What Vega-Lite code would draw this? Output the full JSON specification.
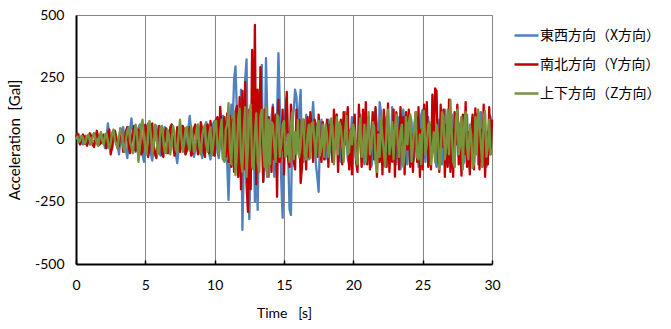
{
"$schema": "https://vega.github.io/schema/vega-lite/v6.json",
"width": 416, "height": 249,
"autosize": "none",
"padding": {"left": 76, "top": 15, "right": 179, "bottom": 65},
"background": "white",
"config": {"view": {"stroke": null}, "font": "Lato"},
"data": {"values": [
{"t":0.0,"x":0,"y":10,"z":5},{"t":0.1,"x":10,"y":25,"z":12},{"t":0.2,"x":20,"y":-5,"z":-10},{"t":0.3,"x":5,"y":-20,"z":-5},{"t":0.4,"x":-15,"y":0,"z":15},{"t":0.5,"x":-20,"y":20,"z":8},{"t":0.6,"x":0,"y":10,"z":-18},{"t":0.7,"x":15,"y":-15,"z":-10},{"t":0.8,"x":10,"y":-25,"z":15},{"t":0.9,"x":-10,"y":5,"z":20},
{"t":1.0,"x":-20,"y":25,"z":-8},{"t":1.1,"x":-5,"y":15,"z":-20},{"t":1.2,"x":15,"y":-20,"z":10},{"t":1.3,"x":25,"y":-30,"z":25},{"t":1.4,"x":5,"y":0,"z":5},{"t":1.5,"x":-15,"y":35,"z":-15},{"t":1.6,"x":-25,"y":10,"z":-25},{"t":1.7,"x":-5,"y":-20,"z":15},{"t":1.8,"x":20,"y":-15,"z":30},{"t":1.9,"x":10,"y":15,"z":-5},
{"t":2.0,"x":-10,"y":20,"z":-20},{"t":2.1,"x":-35,"y":-10,"z":20},{"t":2.2,"x":10,"y":-35,"z":25},{"t":2.3,"x":65,"y":25,"z":-10},{"t":2.4,"x":20,"y":40,"z":-35},{"t":2.5,"x":-25,"y":-60,"z":-15},{"t":2.6,"x":-40,"y":-30,"z":25},{"t":2.7,"x":0,"y":20,"z":40},{"t":2.8,"x":35,"y":35,"z":0},{"t":2.9,"x":15,"y":0,"z":-20},
{"t":3.0,"x":-20,"y":-35,"z":-35},{"t":3.1,"x":-60,"y":-25,"z":10},{"t":3.2,"x":-10,"y":45,"z":45},{"t":3.3,"x":30,"y":20,"z":20},{"t":3.4,"x":50,"y":-50,"z":-25},{"t":3.5,"x":5,"y":-10,"z":-50},{"t":3.6,"x":-40,"y":35,"z":0},{"t":3.7,"x":-75,"y":50,"z":35},{"t":3.8,"x":-20,"y":-30,"z":50},{"t":3.9,"x":40,"y":-55,"z":-10},
{"t":4.0,"x":85,"y":0,"z":-30},{"t":4.1,"x":30,"y":30,"z":-55},{"t":4.2,"x":-30,"y":55,"z":15},{"t":4.3,"x":-50,"y":-45,"z":60},{"t":4.4,"x":10,"y":-35,"z":30},{"t":4.5,"x":45,"y":40,"z":-90},{"t":4.6,"x":60,"y":20,"z":-40},{"t":4.7,"x":0,"y":-60,"z":55},{"t":4.8,"x":-60,"y":-50,"z":80},{"t":4.9,"x":-90,"y":35,"z":10},
{"t":5.0,"x":-20,"y":60,"z":-45},{"t":5.1,"x":50,"y":15,"z":-60},{"t":5.2,"x":65,"y":-70,"z":40},{"t":5.3,"x":10,"y":-40,"z":75},{"t":5.4,"x":-55,"y":50,"z":20},{"t":5.5,"x":-85,"y":65,"z":-55},{"t":5.6,"x":-30,"y":-20,"z":-25},{"t":5.7,"x":40,"y":-60,"z":60},{"t":5.8,"x":55,"y":-75,"z":15},{"t":5.9,"x":0,"y":10,"z":-60},
{"t":6.0,"x":-45,"y":55,"z":-40},{"t":6.1,"x":-65,"y":40,"z":50},{"t":6.2,"x":-10,"y":-60,"z":55},{"t":6.3,"x":35,"y":-70,"z":0},{"t":6.4,"x":50,"y":20,"z":-50},{"t":6.5,"x":15,"y":45,"z":-55},{"t":6.6,"x":-40,"y":-55,"z":40},{"t":6.7,"x":-55,"y":-30,"z":20},{"t":6.8,"x":5,"y":50,"z":-60},{"t":6.9,"x":60,"y":60,"z":-20},
{"t":7.0,"x":30,"y":-10,"z":55},{"t":7.1,"x":-20,"y":-65,"z":30},{"t":7.2,"x":-60,"y":-45,"z":-40},{"t":7.3,"x":-95,"y":50,"z":-55},{"t":7.4,"x":-40,"y":45,"z":20},{"t":7.5,"x":25,"y":-50,"z":80},{"t":7.6,"x":55,"y":-20,"z":10},{"t":7.7,"x":20,"y":55,"z":-50},{"t":7.8,"x":-35,"y":40,"z":-15},{"t":7.9,"x":-60,"y":-60,"z":45},
{"t":8.0,"x":0,"y":-45,"z":50},{"t":8.1,"x":45,"y":20,"z":-20},{"t":8.2,"x":95,"y":50,"z":-45},{"t":8.3,"x":40,"y":-65,"z":55},{"t":8.4,"x":-20,"y":-55,"z":15},{"t":8.5,"x":-70,"y":45,"z":-50},{"t":8.6,"x":-45,"y":60,"z":-30},{"t":8.7,"x":15,"y":-10,"z":45},{"t":8.8,"x":60,"y":-60,"z":60},{"t":8.9,"x":25,"y":-45,"z":-30},
{"t":9.0,"x":-30,"y":70,"z":-60},{"t":9.1,"x":-75,"y":40,"z":15},{"t":9.2,"x":-20,"y":-50,"z":45},{"t":9.3,"x":40,"y":-70,"z":60},{"t":9.4,"x":70,"y":55,"z":-25},{"t":9.5,"x":10,"y":60,"z":-50},{"t":9.6,"x":-55,"y":-55,"z":20},{"t":9.7,"x":-80,"y":75,"z":50},{"t":9.8,"x":-20,"y":20,"z":-65},{"t":9.9,"x":65,"y":-60,"z":-20},
{"t":10.0,"x":75,"y":-65,"z":65},{"t":10.1,"x":20,"y":80,"z":75},{"t":10.2,"x":-50,"y":90,"z":-30},{"t":10.3,"x":-75,"y":-60,"z":-60},{"t":10.4,"x":0,"y":131,"z":30},{"t":10.5,"x":85,"y":40,"z":80},{"t":10.6,"x":95,"y":-80,"z":-75},{"t":10.7,"x":20,"y":90,"z":-90},{"t":10.8,"x":-80,"y":-70,"z":40},{"t":10.9,"x":-90,"y":105,"z":60},
{"t":11.0,"x":-243,"y":-90,"z":146},{"t":11.1,"x":-60,"y":95,"z":-40},{"t":11.2,"x":140,"y":-110,"z":-100},{"t":11.3,"x":60,"y":80,"z":40},{"t":11.4,"x":240,"y":-130,"z":110},{"t":11.5,"x":294,"y":110,"z":-143},{"t":11.6,"x":120,"y":135,"z":-60},{"t":11.7,"x":-150,"y":-150,"z":90},{"t":11.8,"x":-60,"y":170,"z":125},{"t":11.9,"x":200,"y":-200,"z":-80},
{"t":12.0,"x":-363,"y":195,"z":-130},{"t":12.1,"x":-100,"y":-120,"z":40},{"t":12.2,"x":245,"y":230,"z":130},{"t":12.3,"x":322,"y":-180,"z":-150},{"t":12.4,"x":-150,"y":-291,"z":-40},{"t":12.5,"x":-320,"y":120,"z":100},{"t":12.6,"x":-80,"y":-200,"z":140},{"t":12.7,"x":150,"y":360,"z":-110},{"t":12.8,"x":80,"y":-100,"z":-120},{"t":12.9,"x":-250,"y":460,"z":20},
{"t":13.0,"x":-60,"y":-180,"z":105},{"t":13.1,"x":-283,"y":200,"z":-90},{"t":13.2,"x":60,"y":-130,"z":-130},{"t":13.3,"x":150,"y":291,"z":95},{"t":13.4,"x":300,"y":40,"z":120},{"t":13.5,"x":-170,"y":-170,"z":-20},{"t":13.6,"x":-120,"y":120,"z":-110},{"t":13.7,"x":327,"y":-20,"z":131},{"t":13.8,"x":80,"y":-150,"z":-150},{"t":13.9,"x":-150,"y":90,"z":80},
{"t":14.0,"x":-60,"y":30,"z":-100},{"t":14.1,"x":90,"y":-130,"z":70},{"t":14.2,"x":140,"y":130,"z":60},{"t":14.3,"x":-150,"y":-80,"z":-30},{"t":14.4,"x":-60,"y":100,"z":-90},{"t":14.5,"x":100,"y":-230,"z":100},{"t":14.6,"x":347,"y":159,"z":90},{"t":14.7,"x":130,"y":-90,"z":-70},{"t":14.8,"x":-160,"y":-40,"z":-20},{"t":14.9,"x":-315,"y":120,"z":60},
{"t":15.0,"x":-20,"y":-140,"z":75},{"t":15.1,"x":110,"y":60,"z":-70},{"t":15.2,"x":170,"y":191,"z":-60},{"t":15.3,"x":-60,"y":-80,"z":20},{"t":15.4,"x":-280,"y":-110,"z":-90},{"t":15.5,"x":-303,"y":140,"z":60},{"t":15.6,"x":60,"y":20,"z":110},{"t":15.7,"x":120,"y":-90,"z":-80},{"t":15.8,"x":200,"y":-120,"z":30},{"t":15.9,"x":171,"y":120,"z":-60},
{"t":16.0,"x":30,"y":-40,"z":80},{"t":16.1,"x":120,"y":80,"z":-70},{"t":16.2,"x":199,"y":-175,"z":-20},{"t":16.3,"x":-70,"y":-110,"z":60},{"t":16.4,"x":-90,"y":80,"z":80},{"t":16.5,"x":20,"y":10,"z":-60},{"t":16.6,"x":100,"y":-120,"z":-80},{"t":16.7,"x":70,"y":90,"z":20},{"t":16.8,"x":-80,"y":-70,"z":60},{"t":16.9,"x":-40,"y":110,"z":-75},
{"t":17.0,"x":60,"y":30,"z":65},{"t":17.1,"x":150,"y":-90,"z":70},{"t":17.2,"x":40,"y":80,"z":-10},{"t":17.3,"x":-100,"y":60,"z":-70},{"t":17.4,"x":-150,"y":-70,"z":55},{"t":17.5,"x":-210,"y":100,"z":75},{"t":17.6,"x":20,"y":-30,"z":-65},{"t":17.7,"x":80,"y":-90,"z":-25},{"t":17.8,"x":30,"y":70,"z":60},{"t":17.9,"x":-60,"y":-80,"z":-70},
{"t":18.0,"x":-80,"y":-20,"z":60},{"t":18.1,"x":10,"y":80,"z":20},{"t":18.2,"x":80,"y":-110,"z":-70},{"t":18.3,"x":60,"y":60,"z":-40},{"t":18.4,"x":-50,"y":20,"z":85},{"t":18.5,"x":-90,"y":-90,"z":50},{"t":18.6,"x":-20,"y":120,"z":-100},{"t":18.7,"x":60,"y":-10,"z":-10},{"t":18.8,"x":100,"y":100,"z":90},{"t":18.9,"x":30,"y":-130,"z":-60},
{"t":19.0,"x":-60,"y":10,"z":70},{"t":19.1,"x":-90,"y":80,"z":50},{"t":19.2,"x":10,"y":-100,"z":-20},{"t":19.3,"x":80,"y":110,"z":-90},{"t":19.4,"x":110,"y":-20,"z":30},{"t":19.5,"x":20,"y":60,"z":95},{"t":19.6,"x":-80,"y":130,"z":-60},{"t":19.7,"x":-100,"y":-120,"z":-50},{"t":19.8,"x":0,"y":40,"z":40},{"t":19.9,"x":90,"y":-140,"z":-20},
{"t":20.0,"x":80,"y":40,"z":60},{"t":20.1,"x":-10,"y":100,"z":30},{"t":20.2,"x":-90,"y":-90,"z":-80},{"t":20.3,"x":-60,"y":-130,"z":-100},{"t":20.4,"x":40,"y":140,"z":10},{"t":20.5,"x":100,"y":20,"z":85},{"t":20.6,"x":30,"y":-110,"z":-70},{"t":20.7,"x":-70,"y":120,"z":-40},{"t":20.8,"x":-100,"y":-40,"z":60},{"t":20.9,"x":-20,"y":150,"z":-90},
{"t":21.0,"x":70,"y":-100,"z":20},{"t":21.1,"x":90,"y":90,"z":110},{"t":21.2,"x":20,"y":-120,"z":-60},{"t":21.3,"x":-110,"y":10,"z":-30},{"t":21.4,"x":-70,"y":110,"z":70},{"t":21.5,"x":30,"y":-80,"z":50},{"t":21.6,"x":120,"y":130,"z":-90},{"t":21.7,"x":60,"y":-150,"z":-130},{"t":21.8,"x":-80,"y":30,"z":20},{"t":21.9,"x":150,"y":-90,"z":-70},
{"t":22.0,"x":110,"y":80,"z":90},{"t":22.1,"x":-70,"y":-140,"z":10},{"t":22.2,"x":-100,"y":120,"z":-50},{"t":22.3,"x":10,"y":40,"z":-110},{"t":22.4,"x":90,"y":-110,"z":60},{"t":22.5,"x":60,"y":145,"z":120},{"t":22.6,"x":-90,"y":-130,"z":-60},{"t":22.7,"x":-60,"y":10,"z":-20},{"t":22.8,"x":130,"y":-90,"z":70},{"t":22.9,"x":80,"y":120,"z":-80},
{"t":23.0,"x":-80,"y":-150,"z":50},{"t":23.1,"x":-100,"y":110,"z":100},{"t":23.2,"x":20,"y":30,"z":-10},{"t":23.3,"x":90,"y":-120,"z":-70},{"t":23.4,"x":-120,"y":130,"z":30},{"t":23.5,"x":-40,"y":-20,"z":60},{"t":23.6,"x":120,"y":90,"z":-110},{"t":23.7,"x":50,"y":-140,"z":-60},{"t":23.8,"x":-80,"y":110,"z":90},{"t":23.9,"x":-100,"y":-40,"z":-20},
{"t":24.0,"x":10,"y":120,"z":70},{"t":24.1,"x":100,"y":-110,"z":100},{"t":24.2,"x":70,"y":20,"z":-90},{"t":24.3,"x":-90,"y":-130,"z":-30},{"t":24.4,"x":-70,"y":30,"z":60},{"t":24.5,"x":30,"y":110,"z":110},{"t":24.6,"x":90,"y":-90,"z":-70},{"t":24.7,"x":-110,"y":130,"z":-80},{"t":24.8,"x":-50,"y":-150,"z":20},{"t":24.9,"x":100,"y":40,"z":-100},
{"t":25.0,"x":120,"y":-120,"z":80},{"t":25.1,"x":-20,"y":140,"z":115},{"t":25.2,"x":-90,"y":-30,"z":-60},{"t":25.3,"x":80,"y":150,"z":-20},{"t":25.4,"x":90,"y":-110,"z":60},{"t":25.5,"x":-100,"y":60,"z":70},{"t":25.6,"x":-70,"y":-120,"z":-100},{"t":25.7,"x":40,"y":180,"z":-50},{"t":25.8,"x":110,"y":-40,"z":30},{"t":25.9,"x":-80,"y":205,"z":-90},
{"t":26.0,"x":-110,"y":195,"z":60},{"t":26.1,"x":30,"y":-60,"z":20},{"t":26.2,"x":80,"y":-130,"z":-120},{"t":26.3,"x":-90,"y":140,"z":-70},{"t":26.4,"x":-100,"y":-30,"z":110},{"t":26.5,"x":20,"y":120,"z":90},{"t":26.6,"x":120,"y":-150,"z":-80},{"t":26.7,"x":60,"y":60,"z":-30},{"t":26.8,"x":-100,"y":-110,"z":120},{"t":26.9,"x":-90,"y":160,"z":-60},
{"t":27.0,"x":50,"y":-130,"z":160},{"t":27.1,"x":100,"y":40,"z":30},{"t":27.2,"x":-80,"y":-150,"z":-90},{"t":27.3,"x":-110,"y":110,"z":-110},{"t":27.4,"x":30,"y":-20,"z":80},{"t":27.5,"x":110,"y":140,"z":120},{"t":27.6,"x":-70,"y":-100,"z":-60},{"t":27.7,"x":60,"y":20,"z":-20},{"t":27.8,"x":90,"y":-145,"z":90},{"t":27.9,"x":-100,"y":100,"z":-120},
{"t":28.0,"x":-90,"y":-60,"z":70},{"t":28.1,"x":20,"y":150,"z":110},{"t":28.2,"x":100,"y":-110,"z":-30},{"t":28.3,"x":-80,"y":30,"z":-80},{"t":28.4,"x":-120,"y":-140,"z":60},{"t":28.5,"x":30,"y":30,"z":20},{"t":28.6,"x":90,"y":100,"z":-115},{"t":28.7,"x":-90,"y":-120,"z":-100},{"t":28.8,"x":80,"y":125,"z":90},{"t":28.9,"x":100,"y":-30,"z":-60},
{"t":29.0,"x":-100,"y":110,"z":120},{"t":29.1,"x":20,"y":-120,"z":70},{"t":29.2,"x":110,"y":40,"z":-20},{"t":29.3,"x":-90,"y":-110,"z":-110},{"t":29.4,"x":80,"y":140,"z":90},{"t":29.5,"x":60,"y":-150,"z":115},{"t":29.6,"x":-110,"y":30,"z":-70},{"t":29.7,"x":-70,"y":-100,"z":-30},{"t":29.8,"x":100,"y":130,"z":80},{"t":29.9,"x":90,"y":-60,"z":-60},
{"t":30.0,"x":40,"y":80,"z":-40}
]},
"transform": [{"fold": ["x", "y", "z"], "as": ["s", "a"]}],
"mark": {"type": "line", "strokeWidth": 2.3, "strokeJoin": "round"},
"encoding": {
  "x": {"field": "t", "type": "quantitative", "scale": {"domain": [0, 30], "nice": false},
    "axis": {"values": [0, 5, 10, 15, 20, 25, 30], "title": "Time\u00a0\u00a0 [s]", "grid": true, "gridColor": "#868686", "gridWidth": 1,
      "domainColor": "#000", "domainWidth": 2, "tickColor": "#000", "tickSize": -4, "tickWidth": 1.5, "labelFlush": false,
      "labelPadding": 18, "labelFontSize": 14, "labelColor": "#000", "labelFont": "Lato",
      "titleFontSize": 14, "titleFontWeight": "normal", "titleColor": "#000", "titleFont": "Lato", "titlePadding": 14}},
  "y": {"field": "a", "type": "quantitative", "scale": {"domain": [-500, 500], "nice": false},
    "axis": {"values": [-500, -250, 0, 250, 500], "title": "Acceleration\u00a0\u00a0[Gal]", "grid": true, "gridColor": "#868686", "gridWidth": 1,
      "domainColor": "#000", "domainWidth": 2, "ticks": false, "labelExpr": "'' + datum.value",
      "labelPadding": 12, "labelFontSize": 14, "labelColor": "#000", "labelFont": "Lato",
      "titleFontSize": 15, "titleFontWeight": "normal", "titleColor": "#000", "titleFont": "Lato", "titlePadding": 12}},
  "color": {"field": "s", "type": "nominal",
    "scale": {"domain": ["x", "y", "z"], "range": ["#4F81BD", "#C00000", "#77933C"]},
    "legend": {"orient": "none", "legendX": 437, "legendY": 7, "title": null, "symbolType": "stroke", "symbolSize": 576,
      "symbolStrokeWidth": 2.5, "labelFont": "Noto Sans CJK JP", "labelFontSize": 14, "labelColor": "#000",
      "rowPadding": 8, "labelOffset": 0,
      "labelExpr": "datum.value == 'x' ? '東西方向（X方向）' : datum.value == 'y' ? '南北方向（Y方向）' : '上下方向（Z方向）'"}}
}
}
